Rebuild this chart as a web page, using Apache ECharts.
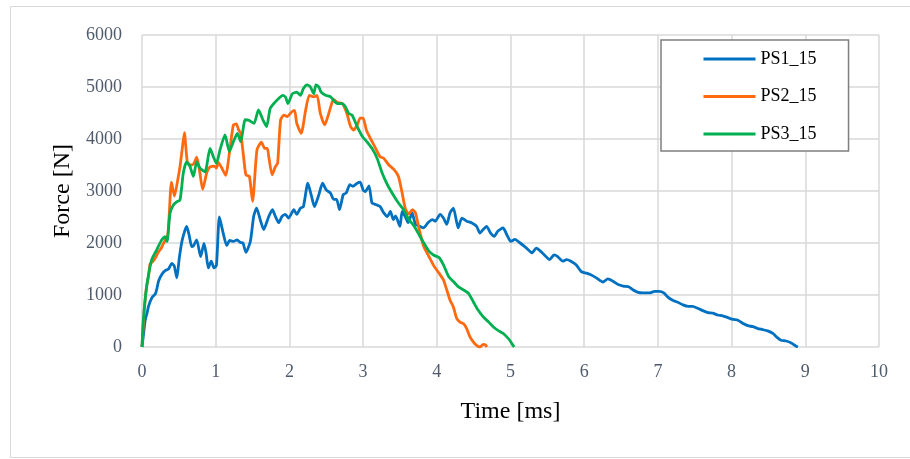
<!DOCTYPE html>
<html>
<head>
<meta charset="utf-8">
<script src="https://cdn.jsdelivr.net/npm/echarts@6/dist/echarts.min.js"></script>
<style>html,body{margin:0;padding:0;background:#fff}#c{width:910px;height:459px}</style>
</head>
<body>
<div id="c"></div>
<script>
const seriesNames = ['PS1_15', 'PS2_15', 'PS3_15'];
const xTicks = [0, 1, 2, 3, 4, 5, 6, 7, 8, 9, 10];
const yTicks = [0, 1000, 2000, 3000, 4000, 5000, 6000];

const ps1 = [[0,0],[0.023,272],[0.045,530],[0.07,660],[0.09,790],[0.135,950],[0.18,1020],[0.2,1110],[0.225,1270],[0.27,1400],[0.315,1470],[0.36,1500],[0.405,1610],[0.437,1560],[0.473,1330],[0.505,1700],[0.54,2020],[0.577,2220],[0.606,2320],[0.64,2150],[0.674,1930],[0.70,1950],[0.742,2060],[0.796,1740],[0.841,1990],[0.87,1800],[0.90,1520],[0.94,1650],[0.977,1520],[1.01,1570],[1.05,2500],[1.10,2200],[1.15,1950],[1.19,2050],[1.24,2030],[1.29,2060],[1.335,2010],[1.37,2000],[1.41,1820],[1.47,2030],[1.515,2510],[1.555,2670],[1.61,2420],[1.65,2260],[1.72,2510],[1.77,2640],[1.81,2510],[1.855,2390],[1.90,2510],[1.945,2550],[1.99,2480],[2.06,2640],[2.10,2550],[2.15,2670],[2.19,2700],[2.25,3150],[2.30,2900],[2.34,2700],[2.40,2930],[2.45,3150],[2.50,3020],[2.557,2960],[2.60,2840],[2.64,2840],[2.68,2640],[2.73,2930],[2.77,2960],[2.82,3120],[2.86,3090],[2.92,3150],[2.96,3170],[3.0,3020],[3.03,2990],[3.08,3100],[3.12,2770],[3.17,2740],[3.23,2700],[3.28,2580],[3.33,2510],[3.37,2610],[3.41,2450],[3.44,2520],[3.50,2320],[3.53,2610],[3.575,2500],[3.61,2390],[3.665,2580],[3.71,2360],[3.77,2320],[3.82,2290],[3.88,2390],[3.94,2450],[3.98,2420],[4.045,2550],[4.09,2480],[4.135,2360],[4.18,2580],[4.225,2670],[4.29,2290],[4.34,2480],[4.405,2420],[4.47,2390],[4.54,2320],[4.585,2190],[4.63,2260],[4.675,2320],[4.73,2190],[4.78,2130],[4.83,2230],[4.90,2290],[4.95,2160],[5.005,2030],[5.06,2070],[5.13,2000],[5.185,1940],[5.24,1870],[5.29,1810],[5.35,1900],[5.41,1840],[5.46,1770],[5.53,1680],[5.59,1770],[5.64,1740],[5.71,1650],[5.76,1680],[5.82,1650],[5.89,1580],[5.96,1450],[6.03,1420],[6.09,1390],[6.165,1330],[6.255,1250],[6.32,1310],[6.39,1265],[6.46,1200],[6.53,1170],[6.61,1155],[6.66,1100],[6.73,1050],[6.80,1040],[6.89,1040],[6.955,1070],[7.02,1070],[7.08,1040],[7.135,960],[7.20,900],[7.27,860],[7.34,810],[7.41,780],[7.47,780],[7.54,745],[7.61,700],[7.68,660],[7.745,650],[7.81,615],[7.88,600],[7.95,565],[8.02,530],[8.08,520],[8.15,455],[8.22,410],[8.29,390],[8.355,355],[8.42,335],[8.49,310],[8.56,260],[8.625,175],[8.67,130],[8.74,115],[8.81,78],[8.875,15],[8.9,0]];

const ps2 = [[0,0],[0.03,700],[0.06,1150],[0.09,1380],[0.11,1600],[0.144,1640],[0.176,1700],[0.225,1830],[0.26,1900],[0.29,1990],[0.35,2160],[0.40,3170],[0.44,2900],[0.486,3220],[0.516,3470],[0.545,3800],[0.575,4120],[0.615,3560],[0.658,3500],[0.70,3520],[0.742,3650],[0.78,3400],[0.823,3030],[0.88,3360],[0.92,3460],[0.98,3480],[1.01,3440],[1.036,3550],[1.08,3450],[1.135,3300],[1.19,3780],[1.24,4270],[1.28,4290],[1.31,4180],[1.34,4100],[1.375,3700],[1.41,3310],[1.457,3280],[1.50,2800],[1.56,3790],[1.62,3940],[1.665,3820],[1.70,3820],[1.72,3660],[1.765,3310],[1.81,3470],[1.84,3530],[1.88,4360],[1.923,4460],[1.97,4430],[2.03,4520],[2.07,4550],[2.10,4300],[2.16,4110],[2.22,4550],[2.27,4840],[2.33,4810],[2.375,4840],[2.42,4490],[2.48,4270],[2.525,4450],[2.58,4710],[2.60,4760],[2.65,4700],[2.72,4680],[2.78,4490],[2.83,4240],[2.87,4170],[2.92,4270],[2.96,4400],[3.0,4400],[3.045,4170],[3.10,4010],[3.17,3820],[3.23,3660],[3.28,3630],[3.35,3500],[3.42,3410],[3.48,3280],[3.53,2960],[3.575,2650],[3.62,2560],[3.67,2640],[3.71,2580],[3.755,2300],[3.82,1940],[3.89,1750],[3.96,1560],[4.03,1420],[4.09,1290],[4.135,1100],[4.18,900],[4.225,770],[4.27,550],[4.315,480],[4.36,450],[4.405,355],[4.45,195],[4.495,100],[4.54,30],[4.585,0],[4.63,50],[4.66,40],[4.68,0]];

const ps3 = [[0,0],[0.018,520],[0.064,1160],[0.13,1670],[0.2,1870],[0.267,2060],[0.31,2120],[0.34,2030],[0.38,2570],[0.425,2730],[0.47,2790],[0.516,2830],[0.56,3340],[0.606,3560],[0.652,3470],[0.697,3280],[0.742,3560],[0.787,3440],[0.855,3370],[0.923,3820],[0.968,3660],[1.01,3530],[1.06,3800],[1.126,4080],[1.185,3760],[1.24,3950],[1.294,4110],[1.34,3950],[1.40,4370],[1.45,4360],[1.52,4300],[1.58,4560],[1.64,4370],[1.69,4240],[1.74,4590],[1.80,4700],[1.855,4780],[1.91,4840],[1.95,4800],[1.98,4680],[2.04,4870],[2.10,4900],[2.15,4840],[2.19,4970],[2.24,5040],[2.285,5000],[2.33,4870],[2.36,5040],[2.40,5000],[2.43,4900],[2.49,4840],[2.56,4810],[2.62,4710],[2.65,4680],[2.715,4680],[2.76,4620],[2.805,4490],[2.85,4460],[2.92,4240],[2.99,4050],[3.05,3950],[3.12,3820],[3.19,3630],[3.26,3340],[3.33,3120],[3.42,2900],[3.48,2770],[3.55,2640],[3.62,2450],[3.69,2330],[3.755,2170],[3.82,2010],[3.89,1850],[3.96,1765],[4.03,1720],[4.09,1580],[4.16,1355],[4.225,1260],[4.29,1160],[4.36,1100],[4.43,1030],[4.495,870],[4.56,710],[4.63,580],[4.70,485],[4.765,390],[4.83,320],[4.90,260],[4.95,195],[4.99,130],[5.035,30],[5.05,0]];

const colors = ['#0070C0', '#FF6A10', '#00B050'];
const tickFont = 'Liberation Serif';

const chart = echarts.init(document.getElementById('c'), null, {renderer: 'canvas'});
const mk = (name, data, color) => ({
  name, type: 'line', data, symbol: 'none', showSymbol: false, smooth: 0.2,
  lineStyle: {color, width: 2.8}, itemStyle: {color}, animation: false
});
chart.setOption({
  animation: false,
  backgroundColor: '#fff',
  graphic: [{type: 'rect', shape: {x: 10.5, y: 6.5, width: 920, height: 451}, style: {fill: 'none', stroke: '#d9d9d9', lineWidth: 1}, silent: true}],
  grid: {left: 142, right: 31, top: 35, bottom: 112},
  xAxis: {
    type: 'value', min: xTicks[0], max: xTicks[xTicks.length - 1], interval: 1,
    name: 'Time [ms]', nameLocation: 'middle', nameGap: 53,
    nameTextStyle: {fontFamily: tickFont, fontSize: 24, color: '#000'},
    axisLine: {show: false}, axisTick: {show: false},
    axisLabel: {fontFamily: tickFont, fontSize: 18, color: '#4f5b6d', margin: 16, formatter: v => String(v)},
    splitLine: {show: true, lineStyle: {color: '#d9d9d9', width: 1.5}}
  },
  yAxis: {
    type: 'value', min: yTicks[0], max: yTicks[yTicks.length - 1], interval: 1000,
    name: 'Force [N]', nameLocation: 'middle', nameGap: 61,
    nameTextStyle: {fontFamily: tickFont, fontSize: 24, color: '#000'},
    axisLine: {show: false}, axisTick: {show: false},
    axisLabel: {fontFamily: tickFont, fontSize: 18, color: '#4f5b6d', margin: 20, formatter: v => String(v)},
    splitLine: {show: true, lineStyle: {color: '#d9d9d9', width: 1.5}}
  },
  legend: {
    data: seriesNames, orient: 'vertical', left: 661, top: 40,
    padding: [10, 32, 8, 41], itemWidth: 52, itemHeight: 18, itemGap: 19.5,
    borderColor: '#7f7f7f', borderWidth: 1.5, backgroundColor: '#fff',
    itemStyle: {opacity: 0},
    lineStyle: {width: 3},
    textStyle: {fontFamily: tickFont, fontSize: 18, color: '#000'}
  },
  series: [mk(seriesNames[0], ps1, colors[0]), mk(seriesNames[1], ps2, colors[1]), mk(seriesNames[2], ps3, colors[2])]
});
</script>
</body>
</html>
